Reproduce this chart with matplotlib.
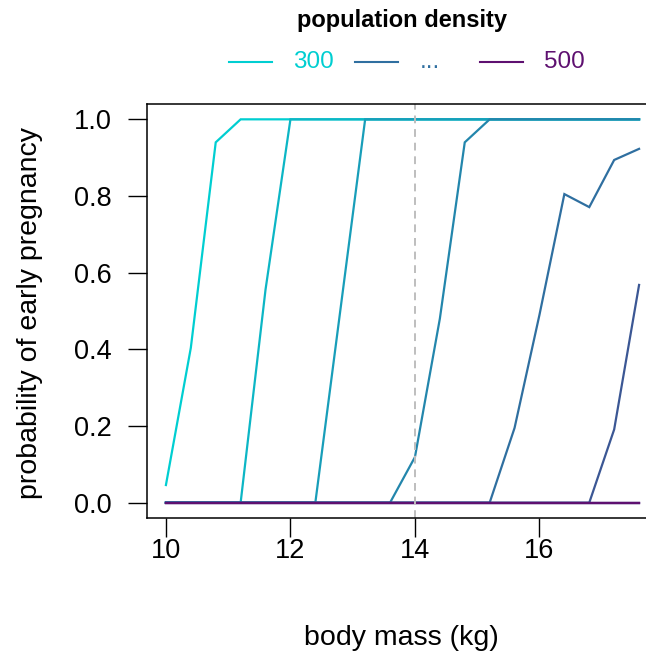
import numpy as np
import matplotlib
matplotlib.use("Agg")
import matplotlib.pyplot as plt
from matplotlib.lines import Line2D
from matplotlib.colors import LinearSegmentedColormap

plt.rcParams['font.family'] = ['Liberation Sans', 'DejaVu Sans']

# ---- data ----
body_mass = np.round(np.arange(20) * 0.4 + 10, 1)
densities = [300, 325, 350, 375, 400, 425, 450, 475, 500]
p300 = [0.046, 0.404, 0.94, 1, 1, 1, 1, 1, 1, 1, 1, 1, 1, 1, 1, 1, 1, 1, 1, 1]
p325 = [0, 0, 0, 0, 0.556, 1, 1, 1, 1, 1, 1, 1, 1, 1, 1, 1, 1, 1, 1, 1]
p350 = [0, 0, 0, 0, 0, 0, 0, 0.50, 1, 1, 1, 1, 1, 1, 1, 1, 1, 1, 1, 1]
p375 = [0, 0, 0, 0, 0, 0, 0, 0, 0, 0, 0.119, 0.48, 0.94, 1, 1, 1, 1, 1, 1, 1]
p400 = [0, 0, 0, 0, 0, 0, 0, 0, 0, 0, 0, 0, 0, 0, 0.195, 0.49, 0.805, 0.771, 0.894, 0.923]
p425 = [0, 0, 0, 0, 0, 0, 0, 0, 0, 0, 0, 0, 0, 0, 0, 0, 0, 0, 0.191, 0.568]
p450 = [0] * 20
p475 = [0] * 20
p500 = [0] * 20
series = [p300, p325, p350, p375, p400, p425, p450, p475, p500]
threshold_mass = 14.0
legend_labels = ['300', '...', '500']

# ---- style ----
W, H = 646, 659
cmap = LinearSegmentedColormap.from_list('dens', ['#00CED1', '#5E1070'])
colors = [cmap(i / (len(densities) - 1)) for i in range(len(densities))]

fig = plt.figure(figsize=(W / 100, H / 100), dpi=100)
left, right, top, bottom = 147, 658, 104, 518
ax = fig.add_axes([left / W, 1 - bottom / H, (right - left) / W, (bottom - top) / H])

for ys, c in zip(series, colors):
    ax.plot(body_mass, ys, color=c, lw=1.6, solid_joinstyle='miter')

ax.axvline(threshold_mass, color='#BEBEBE', lw=1.4, ls=(0, (4, 3)))

xr = body_mass.max() - body_mass.min()
ax.set_xlim(body_mass.min() - 0.04 * xr, body_mass.max() + 0.04 * xr)
ax.set_ylim(-0.04, 1.04)
ax.set_xticks([10, 12, 14, 16])
ax.set_yticks([0.0, 0.2, 0.4, 0.6, 0.8, 1.0])
ax.set_yticklabels(['0.0', '0.2', '0.4', '0.6', '0.8', '1.0'])
ax.tick_params(axis='both', direction='out', length=13.5, width=1.0,
               labelsize=19.5, colors='black')
ax.tick_params(axis='y', pad=12)
ax.tick_params(axis='x', pad=1)
for s in ax.spines.values():
    s.set_linewidth(1.1)

fig.text(30 / W, 1 - 313 / H, 'probability of early pregnancy', rotation=90,
         ha='center', va='center', fontsize=20.5)
fig.text(401 / W, 1 - 638 / H, 'body mass (kg)', ha='center', va='center',
         fontsize=20.5)

# ---- legend ----
fig.text(402 / W, 1 - 20 / H, 'population density', ha='center', va='center',
         fontsize=17, fontweight='bold')
leg_colors = [colors[0], colors[len(colors) // 2], colors[-1]]
line_x0 = [229, 355, 480]
text_x = [313, 430, 564]
for lx, tx, lab, c in zip(line_x0, text_x, legend_labels, leg_colors):
    fig.add_artist(Line2D([lx / W, (lx + 43) / W], [1 - 62 / H, 1 - 62 / H],
                          transform=fig.transFigure, color=c, lw=1.5))
    fig.text(tx / W, 1 - 62 / H, lab, ha='center', va='center', fontsize=17.5,
             color=c)

fig.savefig('out.png', dpi=100)
